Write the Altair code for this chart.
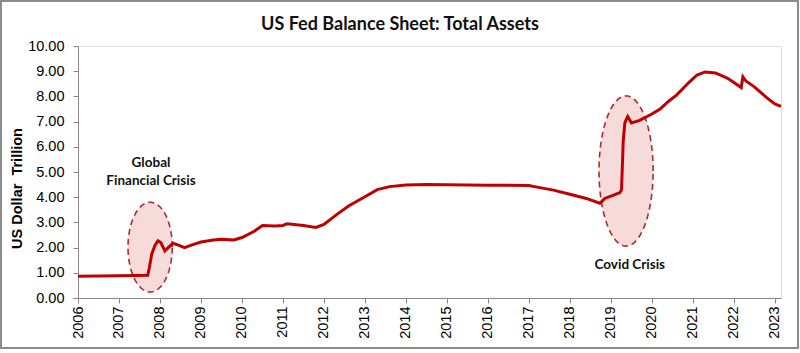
import altair as alt
import pandas as pd
import numpy as np

# ---- data ----
years = [2006.0, 2006.5, 2007.0, 2007.4, 2007.7, 2007.74, 2007.8, 2007.88, 2007.95, 2008.02,
         2008.12, 2008.2, 2008.32, 2008.45, 2008.6, 2008.8, 2009.0, 2009.3, 2009.5, 2009.8,
         2010.0, 2010.3, 2010.5, 2010.8, 2011.0, 2011.1, 2011.5, 2011.8, 2012.0, 2012.3,
         2012.6, 2013.0, 2013.3, 2013.6, 2014.0, 2014.5, 2015.0, 2015.5, 2016.0, 2016.5,
         2017.0, 2017.2, 2017.6, 2018.0, 2018.4, 2018.73, 2018.85, 2019.05, 2019.22, 2019.26,
         2019.3, 2019.34, 2019.41, 2019.5, 2019.7, 2020.0, 2020.2, 2020.4, 2020.6, 2020.9,
         2021.1, 2021.3, 2021.55, 2021.85, 2022.18, 2022.22, 2022.3, 2022.5, 2022.8, 2023.0,
         2023.15]
assets = [0.86, 0.87, 0.88, 0.89, 0.9, 1.2, 1.75, 2.1, 2.27, 2.2,
          1.87, 2.0, 2.17, 2.1, 2.0, 2.12, 2.22, 2.3, 2.33, 2.3,
          2.4, 2.65, 2.88, 2.86, 2.88, 2.95, 2.88, 2.8, 2.92, 3.3,
          3.65, 4.02, 4.3, 4.42, 4.48, 4.5, 4.49, 4.48, 4.47, 4.47,
          4.46, 4.4, 4.28, 4.12, 3.95, 3.76, 3.95, 4.07, 4.18, 4.3,
          6.2, 6.95, 7.2, 6.95, 7.05, 7.3, 7.5, 7.8, 8.05, 8.55,
          8.85, 8.97, 8.93, 8.72, 8.35, 8.78, 8.6, 8.38, 7.95, 7.7,
          7.6]

# annotation ellipses: centre year, centre value, half-width (years), half-height (trillion)
ell_names = ["gfc", "covid"]
ell_cx = [2007.76, 2019.37]
ell_cy = [2.02, 5.04]
ell_rx = [0.54, 0.66]
ell_ry = [1.78, 2.98]

ann_text = ["Global", "Financial Crisis", "Covid Crisis"]
ann_x = [2007.78, 2007.78, 2019.46]
ann_y = [5.36, 4.64, 1.31]

title_text = ["US Fed Balance Sheet: Total Assets"]

y_ticks = [0, 1, 2, 3, 4, 5, 6, 7, 8, 9, 10]
x_ticks = list(range(2006, 2024))

FONT = "Lato"
W, H = 703, 252

series = pd.DataFrame({"year": years, "assets": assets})

# ellipse shapes built from centre/radius
fill_rows, edge_rows = [], []
for n, cx, cy, rx, ry in zip(ell_names, ell_cx, ell_cy, ell_rx, ell_ry):
    t = np.linspace(0, np.pi, 80)
    for tt in t:
        fill_rows.append({"e": n, "x": cx - rx * np.cos(tt),
                          "hi": cy + ry * np.sin(tt), "lo": cy - ry * np.sin(tt)})
    t2 = np.linspace(0, 2 * np.pi, 160)
    for i, tt in enumerate(t2):
        edge_rows.append({"e": n, "i": i, "x": cx + rx * np.cos(tt), "y": cy + ry * np.sin(tt)})
fill_df = pd.DataFrame(fill_rows)
edge_df = pd.DataFrame(edge_rows)
ann_df = pd.DataFrame({"t": ann_text, "x": ann_x, "y": ann_y})

xs = alt.Scale(domain=[2006, 2023.15], nice=False, zero=False)
ys = alt.Scale(domain=[0, 10], nice=False)

xaxis = alt.Axis(values=x_ticks, format="d", labelAngle=270, labelAlign="right",
                 labelBaseline="middle", grid=False, title=None, tickSize=5,
                 labelPadding=3, labelFontSize=14.5, labelOverlap=False)
yaxis = alt.Axis(values=y_ticks, format=".2f", grid=False,
                 title="US Dollar\u00a0\u00a0Trillion",
                 tickSize=5, labelPadding=9, labelFontSize=14.5, labelOverlap=False,
                 labelFlush=False,
                 titleFontSize=14.5, titleFontWeight="bold", titleColor="#000000",
                 titleX=-61, titleY=142, titleBaseline="middle", titleAngle=270)


def X(field):
    return alt.X(field, scale=xs, axis=xaxis)


def Y(field):
    return alt.Y(field, scale=ys, axis=yaxis)


area = alt.Chart(fill_df).mark_area(color="#f6d6d6", opacity=0.9).encode(
    x=X("x:Q"), y=Y("hi:Q"), y2="lo:Q", detail="e:N",
)

edge = alt.Chart(edge_df).mark_line(color="#b02a2a", strokeWidth=1.6, strokeDash=[6, 4]).encode(
    x=X("x:Q"), y=Y("y:Q"), detail="e:N", order="i:Q",
)

line = alt.Chart(series).mark_line(color="#c00000", strokeWidth=3).encode(
    x=X("year:Q"), y=Y("assets:Q"),
)

text = alt.Chart(ann_df).mark_text(font=FONT, fontSize=13.5, fontWeight="bold",
                                   color="#111111", baseline="middle").encode(
    x=X("x:Q"), y=Y("y:Q"), text="t:N",
)

title = alt.Chart(pd.DataFrame({"t": title_text})).mark_text(
    font=FONT, fontSize=18, fontWeight="bold", color="#111111",
    align="center", baseline="middle").encode(
    x=alt.value(322), y=alt.value(-21), text="t:N"
)

border = alt.Chart(pd.DataFrame({"k": [0]})).mark_rect(
    fill=None, stroke="#8c8c8c", strokeWidth=2).encode(
    x=alt.value(-77), x2=alt.value(720), y=alt.value(-45), y2=alt.value(302)
)

chart = alt.layer(area, edge, line, text, title, border).properties(
    width=W, height=H,
    autosize=alt.AutoSizeParams(type="none"),
    padding={"left": 78, "top": 46, "right": 19, "bottom": 55},
).configure_view(stroke=None).configure_axis(
    labelFont=FONT, titleFont=FONT, labelColor="#262626",
    domainColor="#a0a0a0", tickColor="#a0a0a0", domainWidth=1.2,
).configure(background="white")

chart.save("out.html", embed_options={"renderer": "svg", "actions": False})
